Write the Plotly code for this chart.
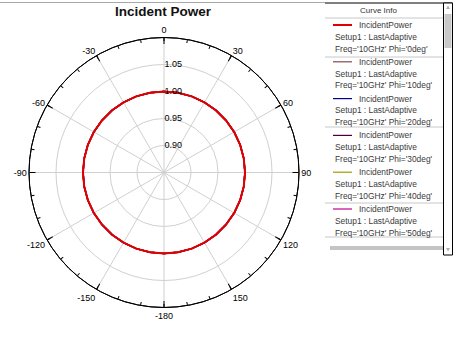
import plotly.graph_objects as go

# ---------------- data ----------------
theta_deg = [0, 10, 20, 30, 40, 50, 60, 70, 80, 90, 100, 110, 120, 130, 140, 150, 160, 170,
             180, 190, 200, 210, 220, 230, 240, 250, 260, 270, 280, 290, 300, 310, 320, 330,
             340, 350, 360]

power_phi0 = [1.000, 1.000, 1.000, 1.000, 1.000, 1.000, 1.000, 1.000, 1.000, 1.000, 1.000, 1.000,
              1.000, 1.000, 1.000, 1.000, 1.000, 1.000, 1.000, 1.000, 1.000, 1.000, 1.000, 1.000,
              1.000, 1.000, 1.000, 1.000, 1.000, 1.000, 1.000, 1.000, 1.000, 1.000, 1.000, 1.000, 1.000]
power_phi10 = [1.000, 1.000, 1.000, 1.000, 1.000, 1.000, 1.000, 1.000, 1.000, 1.000, 1.000, 1.000,
               1.000, 1.000, 1.000, 1.000, 1.000, 1.000, 1.000, 1.000, 1.000, 1.000, 1.000, 1.000,
               1.000, 1.000, 1.000, 1.000, 1.000, 1.000, 1.000, 1.000, 1.000, 1.000, 1.000, 1.000, 1.000]
power_phi20 = [1.000, 1.000, 1.000, 1.000, 1.000, 1.000, 1.000, 1.000, 1.000, 1.000, 1.000, 1.000,
               1.000, 1.000, 1.000, 1.000, 1.000, 1.000, 1.000, 1.000, 1.000, 1.000, 1.000, 1.000,
               1.000, 1.000, 1.000, 1.000, 1.000, 1.000, 1.000, 1.000, 1.000, 1.000, 1.000, 1.000, 1.000]
power_phi30 = [1.000, 1.000, 1.000, 1.000, 1.000, 1.000, 1.000, 1.000, 1.000, 1.000, 1.000, 1.000,
               1.000, 1.000, 1.000, 1.000, 1.000, 1.000, 1.000, 1.000, 1.000, 1.000, 1.000, 1.000,
               1.000, 1.000, 1.000, 1.000, 1.000, 1.000, 1.000, 1.000, 1.000, 1.000, 1.000, 1.000, 1.000]
power_phi40 = [1.000, 1.000, 1.000, 1.000, 1.000, 1.000, 1.000, 1.000, 1.000, 1.000, 1.000, 1.000,
               1.000, 1.000, 1.000, 1.000, 1.000, 1.000, 1.000, 1.000, 1.000, 1.000, 1.000, 1.000,
               1.000, 1.000, 1.000, 1.000, 1.000, 1.000, 1.000, 1.000, 1.000, 1.000, 1.000, 1.000, 1.000]
power_phi50 = [1.000, 1.000, 1.000, 1.000, 1.000, 1.000, 1.000, 1.000, 1.000, 1.000, 1.000, 1.000,
               1.000, 1.000, 1.000, 1.000, 1.000, 1.000, 1.000, 1.000, 1.000, 1.000, 1.000, 1.000,
               1.000, 1.000, 1.000, 1.000, 1.000, 1.000, 1.000, 1.000, 1.000, 1.000, 1.000, 1.000, 1.000]

series_values = [power_phi0, power_phi10, power_phi20, power_phi30, power_phi40, power_phi50]
series_phi = ["0deg", "10deg", "20deg", "30deg", "40deg", "50deg"]
series_colors = ["#e00000", "#844848", "#000088", "#48003c", "#a89800", "#c0008c"]

angle_tickvals = [0, 30, 60, 90, 120, 150, 180, 210, 240, 270, 300, 330]
angle_ticktext = ["0", "30", "60", "90", "120", "150", "-180", "-150", "-120", "-90", "-60", "-30"]
minor_tickvals = [0, 10, 20, 30, 40, 50, 60, 70, 80, 90, 100, 110, 120, 130, 140, 150, 160, 170,
                  180, 190, 200, 210, 220, 230, 240, 250, 260, 270, 280, 290, 300, 310, 320, 330,
                  340, 350]
radial_tickvals = [0.90, 0.95, 1.00, 1.05]
radial_ticktext = ["0.90", "0.95", "1.00", "1.05"]
radial_range = [0.85, 1.10]

title_text = "Incident Power"
legend_title = "Curve Info"

# ---------------- figure ----------------
W, H = 458, 346
FONT = "Liberation Sans, Arial, sans-serif"


def px(x):
    return x / W


def py(y):
    return 1 - y / H


fig = go.Figure()

# draw the first series (red) last so it is on top
order = list(range(1, len(series_values))) + [0]
for i in order:
    fig.add_trace(go.Scatterpolar(
        r=series_values[i], theta=theta_deg, mode="lines",
        line=dict(color=series_colors[i], width=2 if i == 0 else 1.5),
        name="IncidentPower", showlegend=False, subplot="polar", hoverinfo="skip"))

# an empty trace on polar2 so the overlay axes get drawn
fig.add_trace(go.Scatterpolar(r=[], theta=[], subplot="polar2", showlegend=False))

dom_x = [px(29), px(299)]
dom_y = [py(307.5), py(37.5)]

fig.update_layout(
    width=W, height=H,
    margin=dict(l=0, r=0, t=0, b=0),
    paper_bgcolor="white",
    showlegend=False,
    font=dict(family=FONT, color="black"),
    polar=dict(
        domain=dict(x=dom_x, y=dom_y),
        bgcolor="white",
        radialaxis=dict(range=radial_range, tickvals=radial_tickvals, ticktext=radial_ticktext,
                        angle=90, tickangle=90, showline=False, ticks="",
                        gridcolor="#d0d0d0", gridwidth=1,
                        tickfont=dict(size=9, color="black", family=FONT)),
        angularaxis=dict(rotation=90, direction="clockwise", tickvals=angle_tickvals,
                         ticktext=angle_ticktext, ticks="inside", ticklen=6,
                         tickcolor="black", linecolor="black", linewidth=1,
                         showgrid=True, gridcolor="#d0d0d0", gridwidth=1,
                         tickfont=dict(size=9, color="black", family=FONT)),
    ),
    polar2=dict(
        domain=dict(x=dom_x, y=dom_y),
        bgcolor="rgba(0,0,0,0)",
        radialaxis=dict(range=radial_range, visible=False),
        angularaxis=dict(rotation=90, direction="clockwise", tickvals=minor_tickvals,
                         showticklabels=False, ticks="inside", ticklen=3,
                         tickcolor="black", linecolor="black", linewidth=1, showgrid=False),
    ),
)

annotations = []
shapes = []

# title
annotations.append(dict(text="<b>" + title_text + "</b>", x=px(163), y=py(12), xref="paper",
                        yref="paper", xanchor="center", yanchor="middle", showarrow=False,
                        font=dict(size=13.5, family=FONT, color="#111")))

# top gray rule
shapes.append(dict(type="line", xref="paper", yref="paper", x0=0, x1=px(325), y0=py(2.5),
                   y1=py(2.5), line=dict(color="#a8a8a8", width=1)))

# legend panel
shapes.append(dict(type="line", xref="paper", yref="paper", x0=px(325), x1=px(452.5), y0=py(3),
                   y1=py(3), line=dict(color="black", width=1)))
annotations.append(dict(text=legend_title, x=px(378), y=py(11), xref="paper", yref="paper",
                        xanchor="center", yanchor="middle", showarrow=False,
                        font=dict(size=8, family=FONT, color="#333")))
for sy in [18, 57, 127, 203, 237]:
    shapes.append(dict(type="line", xref="paper", yref="paper", x0=px(325), x1=px(443),
                       y0=py(sy), y1=py(sy), line=dict(color="#c8c8c8", width=1)))

for i, phi in enumerate(series_phi):
    y1 = 25 + i * 36.8
    shapes.append(dict(type="line", xref="paper", yref="paper", x0=px(333), x1=px(352),
                       y0=py(y1), y1=py(y1),
                       line=dict(color=series_colors[i], width=2 if i == 0 else 1.2)))
    lines = [(357, y1, "IncidentPower"),
             (333, y1 + 11.8, "Setup1 : LastAdaptive"),
             (333, y1 + 23.6, "Freq='10GHz' Phi='" + phi + "'")]
    for lx, ly, t in lines:
        annotations.append(dict(text=t, x=px(lx), y=py(ly), xref="paper", yref="paper",
                                xanchor="left", yanchor="middle", showarrow=False,
                                font=dict(size=8.4, family=FONT, color="#3a3a3a")))

# scrollbar
shapes.append(dict(type="rect", xref="paper", yref="paper", x0=px(443.5), x1=px(452.5),
                   y0=py(3), y1=py(255), line=dict(color="black", width=1), fillcolor="white"))
shapes.append(dict(type="rect", xref="paper", yref="paper", x0=px(444.5), x1=px(451.5),
                   y0=py(14), y1=py(48), line=dict(width=0), fillcolor="#c8c8c8"))
shapes.append(dict(type="path", xref="paper", yref="paper",
                   path=f"M {px(446)},{py(9)} L {px(450)},{py(9)} L {px(448)},{py(5.5)} Z",
                   line=dict(width=0), fillcolor="#b0b0b0"))
shapes.append(dict(type="path", xref="paper", yref="paper",
                   path=f"M {px(446)},{py(248)} L {px(450)},{py(248)} L {px(448)},{py(251.5)} Z",
                   line=dict(width=0), fillcolor="#b0b0b0"))
shapes.append(dict(type="rect", xref="paper", yref="paper", x0=px(330), x1=px(443),
                   y0=py(246), y1=py(250), line=dict(width=0), fillcolor="#c4c4c4"))

fig.update_layout(annotations=annotations, shapes=shapes)

fig.write_html("out.html")
